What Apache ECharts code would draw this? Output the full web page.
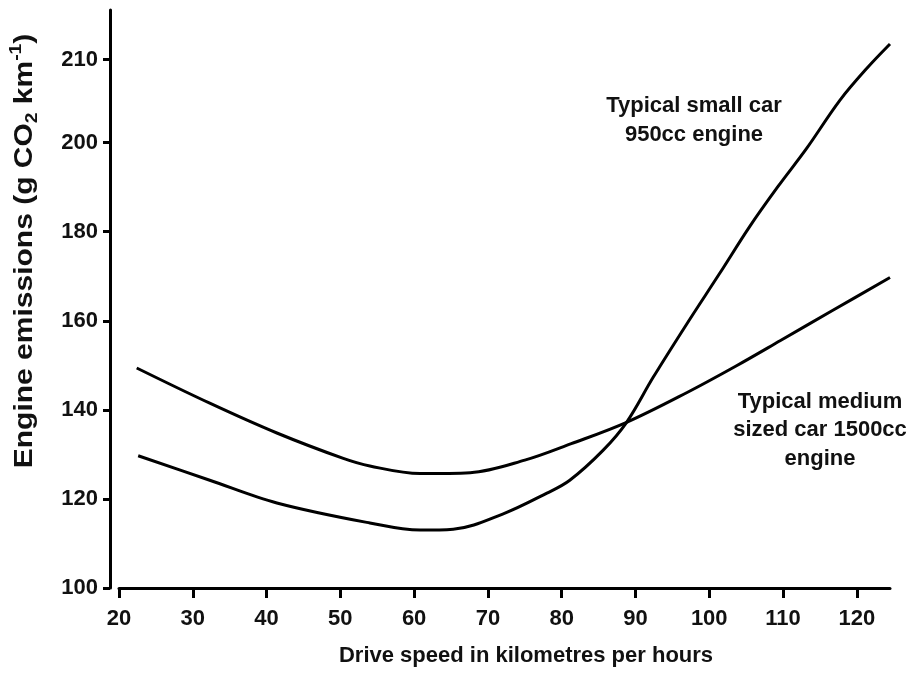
<!DOCTYPE html>
<html><head><meta charset="utf-8">
<script src="https://cdn.jsdelivr.net/npm/echarts@6/dist/echarts.min.js"></script>
<style>html,body{margin:0;padding:0;background:#fff}#c{width:920px;height:673px}</style>
</head><body><div id="c"></div>
<script>
// Data (km/h, g CO2 per km)
const speedSmall = [22.6, 32.3, 41.4, 54.0, 60.8, 65.3, 72.0, 78.0, 81.1, 85.6, 88.8, 92.4, 97.0, 101.4, 105.5, 109.3, 113.2, 117.7, 121.4, 124.5];
const emissionsSmall = [129.7, 124.2, 119.1, 114.6, 113.0, 113.2, 116.6, 121.3, 124.2, 130.9, 137.2, 147.3, 159.4, 170.6, 181.2, 190.1, 198.7, 205.1, 209.0, 211.9];
const speedMedium = [22.4, 32.3, 41.4, 50.4, 54.0, 60.8, 67.6, 75.0, 81.3, 88.8, 97.0, 103.7, 109.6, 116.7, 124.5];
const emissionsMedium = [149.4, 141.5, 134.8, 129.1, 127.4, 125.7, 125.9, 128.7, 132.4, 137.2, 143.9, 149.9, 155.5, 162.3, 169.7];
const xTickLabels = [20, 30, 40, 50, 60, 70, 80, 90, 100, 110, 120];
const yTickLabels = [100, 120, 140, 160, 180, 200, 210];
const xMin = 20, xMax = 124.5;
const yMin = 100, yTopValue = 216;
// The reference's y axis is stretched above 200 (10 units there take the room of ~18.6 below)
const breakValue = 200, stretch = 1.861;
const toAxis = v => v <= breakValue ? v : breakValue + (v - breakValue) * stretch;
const fromAxis = a => a <= breakValue ? a : breakValue + (a - breakValue) / stretch;

const FONT = "'Liberation Sans', Arial, sans-serif";
const chart = echarts.init(document.getElementById('c'), null, {renderer: 'canvas'});
const pairs = (xs, ys) => xs.map((x, i) => [x, toAxis(ys[i])]);

chart.setOption({
  animation: false,
  backgroundColor: '#fff',
  grid: {left: 119, right: 30, top: 10, bottom: 85, containLabel: false, outerBoundsMode: 'none'},
  xAxis: {
    type: 'value', min: xMin, max: xMax,
    axisLine: {show: true, onZero: false, lineStyle: {color: '#000', width: 3}},
    axisTick: {show: true, customValues: xTickLabels, length: 10, lineStyle: {color: '#000', width: 3}},
    axisLabel: {customValues: xTickLabels, margin: 20, color: '#111', fontFamily: FONT, fontWeight: 'bold', fontSize: 22},
    splitLine: {show: false}
  },
  yAxis: {
    type: 'value', min: yMin, max: toAxis(yTopValue), offset: 9,
    axisLine: {show: true, lineStyle: {color: '#000', width: 3}},
    axisTick: {show: true, customValues: yTickLabels.map(toAxis), length: 7, lineStyle: {color: '#000', width: 3}},
    axisLabel: {customValues: yTickLabels.map(toAxis), margin: 12, color: '#111', fontFamily: FONT, fontWeight: 'bold', fontSize: 22,
      formatter: v => String(Math.round(fromAxis(v)))},
    splitLine: {show: false}
  },
  series: [
    {name: 'Typical small car 950cc engine', type: 'line', data: pairs(speedSmall, emissionsSmall),
     smooth: 0.35, showSymbol: false, lineStyle: {color: '#000', width: 3}},
    {name: 'Typical medium sized car 1500cc engine', type: 'line', data: pairs(speedMedium, emissionsMedium),
     smooth: 0.35, showSymbol: false, lineStyle: {color: '#000', width: 3}}
  ],
  graphic: [
    {type: 'text', x: 526, y: 656, style: {text: 'Drive speed in kilometres per hours', fill: '#111',
      font: "bold 22px " + FONT, align: 'center', verticalAlign: 'middle'}},
    {type: 'text', x: 25, y: 251, rotation: Math.PI / 2, scaleX: 1.2, style: {
      text: 'Engine emissions (g CO{sub|2} km{sup|-1})', fill: '#111',
      font: "bold 25px " + FONT, align: 'center', verticalAlign: 'middle', lineHeight: 32,
      rich: {
        sub: {fontSize: 16, fontWeight: 'bold', fontFamily: FONT, fill: '#111', verticalAlign: 'bottom', lineHeight: 16},
        sup: {fontSize: 16, fontWeight: 'bold', fontFamily: FONT, fill: '#111', verticalAlign: 'top', lineHeight: 16}
      }}},
    {type: 'text', x: 694, y: 120, style: {text: 'Typical small car\n950cc engine', fill: '#111',
      font: "bold 22px " + FONT, align: 'center', verticalAlign: 'middle', lineHeight: 29}},
    {type: 'text', x: 820, y: 430, style: {text: 'Typical medium\nsized car 1500cc\nengine', fill: '#111',
      font: "bold 22px " + FONT, align: 'center', verticalAlign: 'middle', lineHeight: 28.5}}
  ]
});
</script></body></html>
